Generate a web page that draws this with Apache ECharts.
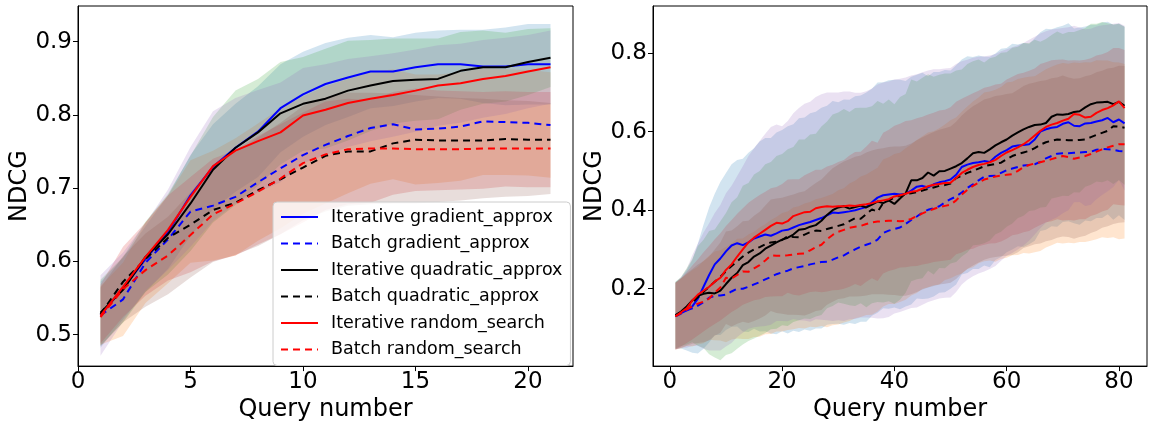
<!DOCTYPE html>
<html>
<head>
<meta charset="utf-8">
<script src="https://cdn.jsdelivr.net/npm/echarts@6/dist/echarts.min.js"></script>
<style>
html,body{margin:0;padding:0;background:#fff;}
#chart{width:1153px;height:427px;}
</style>
</head>
<body>
<div id="chart"></div>
<script>
// ---------------- DATA ----------------
const seriesNames = ['Iterative gradient_approx','Batch gradient_approx','Iterative quadratic_approx','Batch quadratic_approx','Iterative random_search','Batch random_search'];

// Left panel: 21 queries
const queriesL = [1,2,3,4,5,6,7,8,9,10,11,12,13,14,15,16,17,18,19,20,21];
const L_itGrad = [0.527,0.563,0.603,0.640,0.690,0.729,0.755,0.777,0.809,0.828,0.842,0.851,0.859,0.859,0.865,0.869,0.869,0.866,0.866,0.869,0.869];
const L_bGrad  = [0.526,0.548,0.598,0.630,0.668,0.676,0.688,0.708,0.727,0.745,0.759,0.771,0.782,0.787,0.780,0.781,0.784,0.791,0.790,0.789,0.786];
const L_itQuad = [0.530,0.561,0.606,0.637,0.679,0.725,0.755,0.776,0.802,0.815,0.822,0.833,0.840,0.846,0.848,0.849,0.860,0.865,0.865,0.872,0.878];
const L_bQuad  = [0.528,0.572,0.603,0.632,0.650,0.670,0.680,0.697,0.712,0.728,0.744,0.750,0.750,0.761,0.766,0.765,0.765,0.765,0.767,0.766,0.766];
const L_itRand = [0.526,0.565,0.606,0.643,0.688,0.730,0.751,0.764,0.776,0.799,0.807,0.816,0.822,0.827,0.833,0.840,0.843,0.849,0.853,0.859,0.865];
const L_bRand  = [0.524,0.562,0.588,0.608,0.636,0.664,0.679,0.695,0.713,0.734,0.746,0.753,0.754,0.754,0.753,0.753,0.753,0.754,0.754,0.754,0.754];

const Ls_itGrad = [0.045,0.042,0.045,0.050,0.055,0.058,0.060,0.062,0.060,0.058,0.056,0.054,0.050,0.047,0.047,0.046,0.047,0.050,0.053,0.055,0.055];
const Ls_bGrad  = [0.040,0.050,0.055,0.060,0.070,0.075,0.080,0.080,0.082,0.080,0.080,0.078,0.076,0.075,0.075,0.074,0.074,0.073,0.072,0.072,0.072];
const Ls_itQuad = [0.045,0.045,0.048,0.055,0.065,0.072,0.078,0.073,0.070,0.064,0.068,0.068,0.062,0.058,0.056,0.055,0.053,0.050,0.047,0.045,0.040];
const Ls_bQuad  = [0.040,0.048,0.050,0.058,0.065,0.070,0.072,0.074,0.075,0.075,0.074,0.072,0.070,0.070,0.070,0.068,0.067,0.066,0.065,0.065,0.065];
const Ls_itRand = [0.055,0.047,0.046,0.055,0.068,0.075,0.072,0.070,0.068,0.065,0.062,0.060,0.058,0.057,0.056,0.055,0.054,0.053,0.052,0.050,0.050];
const Ls_bRand  = [0.040,0.045,0.050,0.053,0.058,0.065,0.070,0.074,0.076,0.078,0.078,0.077,0.076,0.075,0.074,0.072,0.070,0.068,0.066,0.065,0.062];

// Right panel: 81 queries
const queriesR = Array.from({length: 81}, (_, i) => i + 1);
const R_itGrad = [0.132,0.138,0.145,0.155,0.175,0.205,0.235,0.262,0.277,0.295,
 0.310,0.316,0.311,0.318,0.328,0.333,0.338,0.335,0.341,0.348,
 0.350,0.356,0.362,0.366,0.370,0.375,0.380,0.387,0.394,0.393,
 0.395,0.397,0.400,0.404,0.408,0.420,0.432,0.438,0.440,0.442,
 0.440,0.442,0.450,0.460,0.462,0.458,0.466,0.471,0.474,0.478,
 0.490,0.510,0.516,0.520,0.522,0.525,0.523,0.536,0.546,0.553,
 0.562,0.565,0.566,0.568,0.580,0.600,0.606,0.610,0.612,0.620,
 0.624,0.615,0.614,0.621,0.622,0.626,0.629,0.635,0.624,0.631,0.621];
const R_bGrad = [0.130,0.137,0.145,0.150,0.157,0.166,0.177,0.182,0.183,0.185,
 0.193,0.200,0.200,0.205,0.211,0.217,0.224,0.230,0.237,0.242,
 0.246,0.252,0.255,0.258,0.262,0.265,0.268,0.269,0.274,0.280,
 0.285,0.293,0.300,0.307,0.312,0.317,0.325,0.342,0.348,0.352,
 0.356,0.365,0.375,0.384,0.394,0.401,0.405,0.410,0.420,0.428,
 0.435,0.445,0.457,0.466,0.476,0.485,0.487,0.488,0.495,0.502,
 0.506,0.510,0.514,0.515,0.517,0.523,0.532,0.538,0.544,0.545,
 0.545,0.546,0.547,0.548,0.549,0.554,0.556,0.555,0.554,0.551,0.550];
const R_itQuad = [0.133,0.142,0.155,0.170,0.182,0.187,0.190,0.188,0.195,0.212,
 0.228,0.240,0.260,0.268,0.282,0.290,0.302,0.310,0.318,0.325,
 0.330,0.338,0.350,0.352,0.358,0.362,0.373,0.388,0.400,0.407,
 0.410,0.404,0.408,0.412,0.407,0.414,0.422,0.418,0.425,0.416,
 0.430,0.443,0.476,0.476,0.482,0.496,0.488,0.499,0.500,0.506,
 0.512,0.520,0.532,0.545,0.548,0.546,0.555,0.565,0.573,0.580,
 0.590,0.598,0.606,0.612,0.617,0.618,0.622,0.638,0.644,0.643,
 0.645,0.650,0.652,0.662,0.670,0.674,0.675,0.676,0.670,0.676,0.666];
const R_bQuad = [0.130,0.140,0.152,0.165,0.178,0.192,0.205,0.218,0.230,0.245,
 0.258,0.270,0.282,0.292,0.300,0.306,0.313,0.318,0.320,0.324,
 0.334,0.332,0.331,0.338,0.344,0.348,0.347,0.352,0.356,0.360,
 0.364,0.372,0.380,0.378,0.390,0.402,0.396,0.418,0.425,0.432,
 0.437,0.441,0.443,0.446,0.450,0.454,0.458,0.462,0.464,0.468,
 0.482,0.488,0.495,0.500,0.506,0.512,0.515,0.518,0.521,0.530,
 0.538,0.543,0.547,0.551,0.558,0.567,0.573,0.577,0.580,0.579,
 0.578,0.578,0.579,0.580,0.586,0.592,0.597,0.602,0.614,0.613,0.610];
const R_itRand = [0.130,0.140,0.150,0.170,0.185,0.195,0.205,0.218,0.228,0.248,
 0.262,0.282,0.300,0.318,0.330,0.340,0.350,0.360,0.368,0.366,
 0.372,0.385,0.390,0.395,0.396,0.405,0.408,0.410,0.409,0.410,
 0.410,0.412,0.411,0.413,0.415,0.418,0.422,0.425,0.428,0.435,
 0.438,0.442,0.447,0.449,0.455,0.461,0.465,0.467,0.469,0.470,
 0.482,0.495,0.503,0.510,0.515,0.518,0.522,0.528,0.538,0.547,
 0.553,0.560,0.568,0.578,0.590,0.602,0.612,0.618,0.622,0.628,
 0.633,0.645,0.643,0.636,0.638,0.648,0.655,0.660,0.667,0.677,0.660];
const R_bRand = [0.130,0.138,0.147,0.155,0.162,0.167,0.175,0.190,0.203,0.228,
 0.226,0.235,0.244,0.243,0.252,0.260,0.272,0.285,0.284,0.284,
 0.285,0.287,0.289,0.290,0.298,0.306,0.312,0.326,0.337,0.345,
 0.350,0.355,0.358,0.360,0.365,0.369,0.371,0.372,0.373,0.373,
 0.372,0.373,0.378,0.385,0.392,0.398,0.403,0.408,0.411,0.414,
 0.425,0.440,0.452,0.462,0.470,0.478,0.482,0.486,0.488,0.490,
 0.492,0.500,0.510,0.515,0.519,0.522,0.526,0.530,0.534,0.538,
 0.535,0.531,0.534,0.538,0.543,0.549,0.555,0.560,0.564,0.568,0.568];

const Rs_itGrad = [0.085,0.090,0.102,0.118,0.140,0.158,0.172,0.180,0.195,0.200,
 0.207,0.212,0.220,0.228,0.230,0.242,0.246,0.249,0.257,0.256,
 0.264,0.263,0.272,0.270,0.277,0.276,0.281,0.279,0.284,0.282,
 0.287,0.284,0.290,0.288,0.292,0.289,0.293,0.288,0.291,0.290,
 0.292,0.287,0.290,0.285,0.288,0.283,0.286,0.281,0.283,0.278,
 0.279,0.274,0.276,0.270,0.272,0.266,0.268,0.263,0.265,0.260,
 0.262,0.257,0.260,0.255,0.258,0.253,0.256,0.251,0.254,0.250,
 0.252,0.248,0.251,0.247,0.250,0.246,0.249,0.245,0.248,0.244,0.246];
const Rs_bGrad = [0.085,0.089,0.091,0.097,0.099,0.105,0.107,0.113,0.115,0.121,
 0.122,0.127,0.128,0.133,0.134,0.139,0.140,0.145,0.146,0.151,
 0.151,0.155,0.155,0.159,0.159,0.163,0.163,0.167,0.167,0.171,
 0.171,0.175,0.175,0.179,0.179,0.183,0.183,0.187,0.187,0.191,
 0.190,0.193,0.192,0.195,0.194,0.197,0.196,0.199,0.198,0.201,
 0.201,0.206,0.207,0.211,0.211,0.215,0.215,0.219,0.219,0.223,
 0.221,0.224,0.223,0.225,0.224,0.227,0.227,0.227,0.227,0.230,
 0.228,0.230,0.228,0.229,0.227,0.228,0.225,0.226,0.223,0.225,0.222];
const Rs_itQuad = [0.085,0.088,0.097,0.106,0.127,0.138,0.157,0.163,0.177,0.181,
 0.192,0.193,0.202,0.201,0.209,0.210,0.215,0.213,0.220,0.218,
 0.225,0.223,0.230,0.228,0.235,0.233,0.240,0.238,0.244,0.242,
 0.248,0.246,0.252,0.249,0.254,0.251,0.256,0.253,0.257,0.254,
 0.258,0.253,0.257,0.252,0.255,0.250,0.252,0.246,0.248,0.242,
 0.244,0.238,0.240,0.234,0.236,0.230,0.232,0.226,0.228,0.222,
 0.224,0.218,0.220,0.214,0.217,0.211,0.214,0.208,0.211,0.206,
 0.209,0.204,0.207,0.202,0.205,0.201,0.204,0.200,0.203,0.199,0.201];
const Rs_bQuad = [0.085,0.087,0.090,0.094,0.097,0.101,0.104,0.108,0.111,0.115,
 0.117,0.121,0.123,0.127,0.129,0.133,0.134,0.138,0.139,0.143,
 0.144,0.147,0.148,0.151,0.152,0.155,0.156,0.159,0.160,0.163,
 0.164,0.167,0.168,0.171,0.172,0.175,0.176,0.179,0.180,0.183,
 0.183,0.186,0.186,0.188,0.188,0.190,0.190,0.192,0.192,0.194,
 0.194,0.196,0.196,0.198,0.198,0.200,0.200,0.202,0.201,0.203,
 0.202,0.204,0.203,0.204,0.203,0.205,0.204,0.205,0.203,0.205,
 0.203,0.204,0.202,0.203,0.201,0.202,0.200,0.201,0.199,0.200,0.198];
const Rs_itRand = [0.085,0.090,0.100,0.115,0.130,0.148,0.162,0.175,0.185,0.195,
 0.200,0.205,0.212,0.220,0.228,0.236,0.245,0.252,0.250,0.248,
 0.255,0.262,0.270,0.276,0.280,0.283,0.287,0.290,0.291,0.290,
 0.292,0.290,0.288,0.286,0.288,0.292,0.298,0.300,0.300,0.298,
 0.297,0.296,0.296,0.297,0.296,0.295,0.294,0.292,0.292,0.292,
 0.290,0.284,0.280,0.278,0.276,0.274,0.272,0.270,0.267,0.263,
 0.262,0.260,0.258,0.256,0.252,0.248,0.244,0.242,0.240,0.236,
 0.233,0.225,0.222,0.225,0.224,0.220,0.216,0.212,0.208,0.200,0.210];
const Rs_bRand = [0.085,0.088,0.092,0.095,0.100,0.103,0.107,0.110,0.115,0.118,
 0.122,0.124,0.128,0.130,0.134,0.136,0.140,0.142,0.146,0.148,
 0.151,0.153,0.156,0.158,0.161,0.163,0.166,0.167,0.170,0.171,
 0.174,0.175,0.178,0.179,0.182,0.183,0.185,0.186,0.188,0.189,
 0.190,0.191,0.192,0.193,0.194,0.195,0.196,0.197,0.198,0.199,
 0.200,0.201,0.202,0.203,0.203,0.204,0.204,0.205,0.205,0.206,
 0.206,0.207,0.206,0.207,0.206,0.207,0.205,0.206,0.204,0.205,
 0.203,0.204,0.202,0.203,0.201,0.202,0.200,0.201,0.199,0.200,0.199];

const xTicksL = [0,5,10,15,20];
const yTicksL = [0.5,0.6,0.7,0.8,0.9];
const xTicksR = [0,20,40,60,80];
const yTicksR = [0.2,0.4,0.6,0.8];

// ---------------- STYLE ----------------
const lineColors = ['#0000ff','#0000ff','#000000','#000000','#ff0000','#ff0000'];
const lineDash   = ['solid',[7,5],'solid',[7,5],'solid',[7,5]];
const bandColors = ['rgba(31,119,180,0.2)','rgba(255,127,14,0.2)','rgba(44,160,44,0.2)','rgba(214,39,40,0.2)','rgba(148,103,189,0.2)','rgba(140,86,75,0.2)'];
const FONT = 'DejaVu Sans';

const meansL = [L_itGrad, L_bGrad, L_itQuad, L_bQuad, L_itRand, L_bRand];
const stdsL  = [Ls_itGrad, Ls_bGrad, Ls_itQuad, Ls_bQuad, Ls_itRand, Ls_bRand];
const meansR = [R_itGrad, R_bGrad, R_itQuad, R_bQuad, R_itRand, R_bRand];
const stdsR  = [Rs_itGrad, Rs_bGrad, Rs_itQuad, Rs_bQuad, Rs_itRand, Rs_bRand];

function bandSeries(xs, mean, std, color, idx, name) {
  const data = xs.map((x, i) => [x, mean[i] - std[i], mean[i] + std[i]]);
  return {
    type: 'custom', name: name, xAxisIndex: idx, yAxisIndex: idx, data: data,
    encode: {x: 0, y: [1, 2]}, z: 1, silent: true, animation: false,
    renderItem: function (params, api) {
      if (params.dataIndex !== 0) return null;
      const up = [], lo = [];
      for (let i = 0; i < data.length; i++) {
        up.push(api.coord([data[i][0], data[i][2]]));
        lo.push(api.coord([data[i][0], data[i][1]]));
      }
      return {type: 'polygon', shape: {points: up.concat(lo.reverse())}, style: {fill: color}};
    }
  };
}
function lineSeries(xs, mean, k, idx) {
  return {
    type: 'line', name: seriesNames[k], xAxisIndex: idx, yAxisIndex: idx,
    data: xs.map((x, i) => [x, mean[i]]), symbol: 'none', showSymbol: false,
    lineStyle: {color: lineColors[k], width: 2, type: lineDash[k]},
    itemStyle: {color: lineColors[k]}, z: 5, animation: false
  };
}

const series = [];
for (let k = 0; k < 6; k++) series.push(bandSeries(queriesL, meansL[k], stdsL[k], bandColors[k], 0, 'bandL' + k));
for (let k = 0; k < 6; k++) series.push(bandSeries(queriesR, meansR[k], stdsR[k], bandColors[k], 1, 'bandR' + k));
for (let k = 0; k < 6; k++) series.push(lineSeries(queriesL, meansL[k], k, 0));
for (let k = 0; k < 6; k++) { const s = lineSeries(queriesR, meansR[k], k, 1); s.name = seriesNames[k] + ' '; series.push(s); }

function xAxisCfg(idx, min, max, ticks) {
  return {
    type: 'value', gridIndex: idx, min: min, max: max, position: 'bottom',
    name: 'Query number', nameLocation: 'middle', nameGap: 27,
    nameTextStyle: {fontSize: 24, color: '#000', fontFamily: FONT},
    axisLine: {show: true, onZero: false, lineStyle: {color: '#000', width: 1}}, splitLine: {show: false},
    axisTick: {show: true, length: 5, lineStyle: {color: '#000', width: 1}, customValues: ticks},
    axisLabel: {fontSize: 23, color: '#000', fontFamily: FONT, margin: 4, customValues: ticks, formatter: v => String(v)}
  };
}
function yAxisCfg(idx, min, max, ticks, gap) {
  return {
    type: 'value', gridIndex: idx, min: min, max: max, position: 'left', offset: 0,
    name: 'NDCG', nameLocation: 'middle', nameGap: gap, nameRotate: 90,
    nameTextStyle: {fontSize: 24, color: '#000', fontFamily: FONT},
    axisLine: {show: true, onZero: false, lineStyle: {color: '#000', width: 1}}, splitLine: {show: false},
    axisTick: {show: true, length: 5, lineStyle: {color: '#000', width: 1}, customValues: ticks},
    axisLabel: {fontSize: 23, color: '#000', fontFamily: FONT, margin: 6, customValues: ticks, formatter: v => v.toFixed(1)}
  };
}

const chart = echarts.init(document.getElementById('chart'), null, {renderer: 'canvas'});
chart.setOption({
  animation: false,
  backgroundColor: '#fff',
  grid: [
    {left: 78, top: 6, width: 495, height: 362, show: true, borderColor: '#000', borderWidth: 1, backgroundColor: 'transparent'},
    {left: 653, top: 6, width: 494, height: 362, show: true, borderColor: '#000', borderWidth: 1, backgroundColor: 'transparent'}
  ],
  xAxis: [xAxisCfg(0, 0, 22, xTicksL), xAxisCfg(1, -3, 85, xTicksR)],
  yAxis: [yAxisCfg(0, 0.457, 0.9485, yTicksL, 46), yAxisCfg(1, 0.003, 0.92, yTicksR, 44)],
  legend: {
    data: seriesNames, orient: 'vertical', left: 273, top: 202,
    itemWidth: 37, itemHeight: 14, itemGap: 6.5, padding: [5, 8, 6, 7],
    backgroundColor: 'rgba(255,255,255,0.8)', borderColor: '#cccccc', borderWidth: 1, borderRadius: 4,
    itemStyle: {opacity: 0, borderWidth: 0},
    lineStyle: {width: 2},
    textStyle: {fontSize: 17.5, color: '#000', fontFamily: FONT, lineHeight: 20, padding: [0, 0, 0, 8]},
    selectedMode: false, z: 20
  },
  series: series
});
</script>
</body>
</html>
